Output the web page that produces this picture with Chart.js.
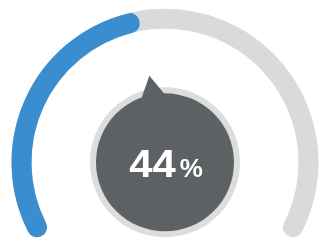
<!DOCTYPE html>
<html>
<head>
<meta charset="utf-8">
<script src="https://cdn.jsdelivr.net/npm/chart.js@4"></script>
<style>
  html, body { margin: 0; padding: 0; background: #fff; }
  #wrap { position: relative; width: 322px; height: 241px; }
  #wrap canvas { position: absolute; left: 0; top: 0; }
</style>
</head>
<body>
<div id="wrap">
  <canvas id="track" width="322" height="241"></canvas>
  <canvas id="gauge" width="322" height="241"></canvas>
</div>
<script>
// gauge data
const categories = ['Done', 'Remaining'];
const values = [44, 56];
const trackValues = [100];
const unitLabel = '%';

const BLUE = '#3a8ecf';
const TRACK = '#d9dbdb';
const DARK = '#5e6163';
const RING = '#dcdddd';

// thin sector stroked wide with round joins -> round-capped band
const MID = 144, BAND = 19;

function gaugeOptions() {
    return {
        responsive: false,
        animation: false,
        rotation: -117,
        circumference: 234,
        radius: MID,
        cutout: ((MID - 1) / MID * 100) + '%',
        layout: { padding: { left: 8, top: 5 } },
        plugins: { legend: { display: false }, tooltip: { enabled: false } }
    };
}

new Chart(document.getElementById('track'), {
    type: 'doughnut',
    data: {
        labels: ['Track'],
        datasets: [{
            data: trackValues,
            backgroundColor: [TRACK],
            borderColor: [TRACK],
            borderWidth: BAND,
            borderJoinStyle: 'round'
        }]
    },
    options: gaugeOptions()
});

// center bubble + pointer, placed from the value arc
const centerBubble = {
    id: 'centerBubble',
    afterDatasetsDraw(chart) {
        const arc = chart.getDatasetMeta(0).data[0];
        const ctx = chart.ctx;
        const cx = arc.x, cy = arc.y;
        // aim at the tip of the blue band
        const a = arc.endAngle + (BAND / 2) / MID;
        ctx.save();
        ctx.beginPath();
        ctx.arc(cx, cy, 75, 0, Math.PI * 2);
        ctx.fillStyle = RING;
        ctx.fill();
        ctx.beginPath();
        ctx.arc(cx, cy, 69, 0, Math.PI * 2);
        ctx.fillStyle = DARK;
        ctx.fill();
        // pointer
        const spread = 0.26;
        ctx.beginPath();
        ctx.moveTo(cx + Math.cos(a - spread) * 62, cy + Math.sin(a - spread) * 62);
        ctx.lineTo(cx + Math.cos(a) * 88, cy + Math.sin(a) * 88);
        ctx.lineTo(cx + Math.cos(a + spread) * 62, cy + Math.sin(a + spread) * 62);
        ctx.closePath();
        ctx.fill();
        // label
        const num = String(values[0]);
        const bigFont = 'bold 38px "Liberation Sans", Arial, sans-serif';
        const smallFont = 'bold 26px "Liberation Sans", Arial, sans-serif';
        const sx = 1.1;
        ctx.fillStyle = '#fff';
        ctx.textBaseline = 'alphabetic';
        ctx.font = bigFont;
        const w1 = ctx.measureText(num).width * sx;
        ctx.font = smallFont;
        const w2 = ctx.measureText(unitLabel).width;
        const gap = 4;
        const x = cx + 1 - (w1 + gap + w2) / 2;
        const base = cy + 15;
        ctx.save();
        ctx.translate(x, base);
        ctx.scale(sx, 1);
        ctx.font = bigFont;
        ctx.fillText(num, 0, 0);
        ctx.restore();
        ctx.font = smallFont;
        ctx.fillText(unitLabel, x + w1 + gap, base);
        ctx.restore();
    }
};

new Chart(document.getElementById('gauge'), {
    type: 'doughnut',
    data: {
        labels: categories,
        datasets: [{
            data: values,
            backgroundColor: [BLUE, 'rgba(0,0,0,0)'],
            borderColor: [BLUE, 'rgba(0,0,0,0)'],
            borderWidth: [BAND, 0],
            borderJoinStyle: 'round'
        }]
    },
    options: gaugeOptions(),
    plugins: [centerBubble]
});
</script>
</body>
</html>
